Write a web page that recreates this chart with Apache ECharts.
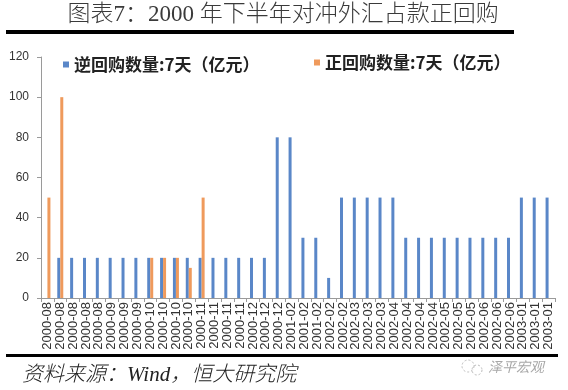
<!DOCTYPE html>
<html>
<head>
<meta charset="utf-8">
<script src="https://cdn.jsdelivr.net/npm/echarts@6/dist/echarts.min.js"></script>
<style>
html,body{margin:0;padding:0;background:#fff;}
#chart{width:568px;height:390px;}
</style>
</head>
<body>
<div id="chart"></div>
<script>
var titleText = '图表7：2000 年下半年对冲外汇占款正回购';
var sourceText = '资料来源：Wind，恒大研究院';
var watermarkText = '泽平宏观';
var seriesNames = ['逆回购数量:7天（亿元）', '正回购数量:7天（亿元）'];
var categories = [
  '2000-08','2000-08','2000-08','2000-08','2000-08',
  '2000-09','2000-09','2000-09',
  '2000-10','2000-10','2000-10','2000-10',
  '2000-11','2000-11','2000-11','2000-11',
  '2000-12','2000-12','2000-12',
  '2001-02','2001-02','2001-02',
  '2002-02','2002-02',
  '2002-03','2002-03','2002-03',
  '2002-04','2002-04','2002-04','2002-04',
  '2002-05','2002-05','2002-05',
  '2002-06','2002-06','2002-06',
  '2003-01','2003-01','2003-01'
];
var reverseRepo = [0,20,20,20,20,20,20,20,20,20,20,20,20,20,20,20,20,20,80,80,30,30,10,50,50,50,50,50,30,30,30,30,30,30,30,30,30,50,50,50];
var repo = [50,100,0,0,0,0,0,0,20,20,20,15,50,0,0,0,0,0,0,0,0,0,0,0,0,0,0,0,0,0,0,0,0,0,0,0,0,0,0,0];
var yTicks = [0,20,40,60,80,100,120];

var chart = echarts.init(document.getElementById('chart'), null, {renderer:'canvas'});
var cjk = '"Noto Sans CJK SC", sans-serif';
var option = {
  backgroundColor: '#ffffff',
  animation: false,
  grid: {left: 41, right: 13, top: 57, bottom: 92, containLabel: false},
  legend: [
    {data: [seriesNames[0]], left: 58, top: 51, itemWidth: 6, itemHeight: 6, icon: 'rect',
     textStyle: {fontFamily: cjk, fontSize: 17, fontWeight: 'bold', color: '#222'}},
    {data: [seriesNames[1]], left: 309, top: 49, itemWidth: 6, itemHeight: 6, icon: 'rect',
     textStyle: {fontFamily: cjk, fontSize: 17, fontWeight: 'bold', color: '#222'}}
  ],
  xAxis: {
    type: 'category',
    data: categories,
    boundaryGap: true,
    axisLine: {show: true, lineStyle: {color: '#9a9a9a', width: 1}},
    axisTick: {show: true, alignWithLabel: false, interval: 0, length: 4, lineStyle: {color: '#9a9a9a'}},
    axisLabel: {interval: 0, rotate: 90, margin: 4, fontSize: 13, color: '#333', fontFamily: '"Liberation Sans", Arial, sans-serif'}
  },
  yAxis: {
    type: 'value',
    min: 0, max: 120, interval: 20,
    axisLine: {show: true, lineStyle: {color: '#9a9a9a', width: 1}},
    axisTick: {show: true, length: 4, lineStyle: {color: '#9a9a9a'}},
    splitLine: {show: false},
    axisLabel: {margin: 12, fontSize: 12, color: '#333', fontFamily: '"Liberation Sans", Arial, sans-serif',
      formatter: function(v){ return yTicks.indexOf(v) >= 0 ? String(v) : ''; }}
  },
  series: [
    {name: seriesNames[0], type: 'bar', data: reverseRepo, barWidth: 3, barGap: '0%',
     itemStyle: {color: '#5a87c8'}},
    {name: seriesNames[1], type: 'bar', data: repo, barWidth: 3, barGap: '0%',
     itemStyle: {color: '#ef9a5c'}}
  ],
  graphic: [
    {type: 'text', x: 283, y: 15, style: {text: titleText, fill: '#3a3a3a', textAlign: 'center', textVerticalAlign: 'middle',
      font: '300 23px "Liberation Serif", "Noto Sans CJK SC", serif'}},
    {type: 'rect', shape: {x: 6, y: 30, width: 508, height: 4}, style: {fill: '#000'}},
    {type: 'rect', shape: {x: 6, y: 354, width: 552, height: 3}, style: {fill: '#000'}},
    {type: 'text', x: 22, y: 375, style: {text: sourceText, fill: '#222', textAlign: 'left', textVerticalAlign: 'middle',
      font: 'italic 300 21px "Liberation Serif", "Noto Sans CJK SC", serif'}},
    {type: 'circle', shape: {cx: 468, cy: 366, r: 6}, style: {fill: 'none', stroke: '#bbb', lineWidth: 1, lineDash: [2,2]}},
    {type: 'circle', shape: {cx: 477, cy: 370, r: 5}, style: {fill: 'none', stroke: '#bbb', lineWidth: 1, lineDash: [2,2]}},
    {type: 'text', x: 488, y: 367, style: {text: watermarkText, fill: '#a8a8a8', textAlign: 'left', textVerticalAlign: 'middle',
      font: 'italic 14px "Noto Sans CJK SC", sans-serif'}}
  ]
};
chart.setOption(option);
</script>
</body>
</html>
